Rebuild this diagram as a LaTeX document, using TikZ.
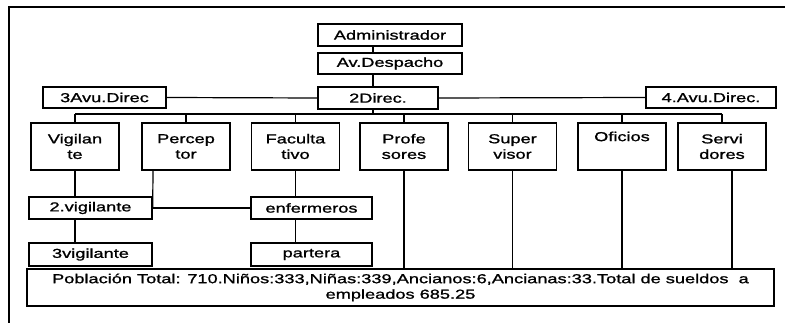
\documentclass[tikz,border=0pt]{standalone}
\usepackage{fontspec}
\setmainfont{Liberation Sans}[FakeStretch=1.4,FakeBold=1.2]
\begin{document}
\begin{tikzpicture}[x=1pt,y=-1pt,
  box/.style={draw,line width=1.4pt,inner sep=0pt,align=center,
    font=\fontsize{13}{15.5}\selectfont},
  wire/.style={line width=1.2pt}]
\useasboundingbox (0,0) rectangle (793,323);
% frame
\coordinate (fbl) at (9,323);
\coordinate (ftl) at (9,7);
\coordinate (ftr) at (785,7);
\draw[line width=1.3pt] (fbl) -- (ftl) -- (ftr);
% nodes
\node[box,minimum width=144,minimum height=22] (adm) at (390,35) {Administrador};
\node[box,minimum width=144,minimum height=21] (desp) at (390,63.5) {Av.Despacho};
\node[box,minimum width=120,minimum height=22] (dir2) at (378,98) {2Direc.};
\node[box,minimum width=123,minimum height=21] (avu3) at (104.5,97.5) {3Avu.Direc};
\node[box,minimum width=130,minimum height=21] (avu4) at (711,97.5) {4.Avu.Direc.};
\foreach \n/\x/\t in {vig/75/Vigilan\\te, per/186/Percep\\tor, fac/295.5/Faculta\\tivo,
  pro/404/Profe\\sores, sup/512.5/Super\\visor, ofi/622/Oficios\\\strut, ser/722/Servi\\dores}
  \node[box,minimum width=88,minimum height=47] (\n) at (\x,146.5) {\t};
\node[box,minimum width=123,minimum height=22] (vig2) at (90.5,208) {2.vigilante};
\node[box,minimum width=121,minimum height=22] (enf) at (311.5,208) {enfermeros};
\node[box,minimum width=123,minimum height=23] (vig3) at (90.5,254.5) {3vigilante};
\node[box,minimum width=121,minimum height=23] (par) at (311.5,254.5) {partera};
\node[box,minimum width=747,minimum height=37] (pob) at (400.5,287.5)
  {Población Total: 710.Niños:333,Niñas:339,Ancianos:6,Ancianas:33.Total de sueldos \ a\\empleados 685.25};
% helper coordinates
\coordinate (trunk) at (373,0);
\coordinate (bus) at (0,114);
\coordinate (pdrop) at (153,0);
\coordinate (sdrop) at (732,0);
% connectors
\draw[wire] (adm.south -| trunk) -- (desp.north -| trunk);
\draw[wire] (desp.south -| trunk) -- (dir2.north -| trunk);
\draw[wire] (dir2.south -| trunk) -- (trunk |- bus);
\draw[wire] (avu3.east) -- (dir2.west);
\draw[wire] (dir2.east) -- (avu4.west);
\draw[wire] (vig.north |- bus) -- (ser.north |- bus);
\foreach \n in {vig,per,fac,pro,sup,ofi,ser}
  \draw[wire] (\n.north |- bus) -- (\n.north);
\draw[wire] (vig.south) -- (vig.south |- vig2.north);
\draw[wire] (vig2.south -| vig.south) -- (vig3.north -| vig.south);
\draw[wire] (per.south -| pdrop) -- (vig2.east);
\draw[wire] (vig2.east) -- (enf.west);
\draw[wire] (fac.south) -- (fac.south |- enf.north);
\draw[wire] (enf.south -| fac.south) -- (par.north -| fac.south);
\draw[wire] (pro.south) -- (pro.south |- pob.north);
\draw[wire] (sup.south) -- (sup.south |- pob.north);
\draw[wire] (ofi.south) -- (ofi.south |- pob.north);
\draw[wire] (ser.south -| sdrop) -- (pob.north -| sdrop);
\end{tikzpicture}
\end{document}
